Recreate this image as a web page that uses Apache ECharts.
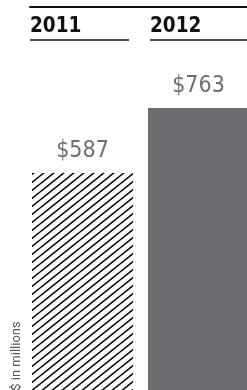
<!DOCTYPE html>
<html><head><meta charset="utf-8">
<script src="https://cdn.jsdelivr.net/npm/echarts@6/dist/echarts.min.js"></script>
<style>html,body{margin:0;padding:0;background:#fff}#c{width:247px;height:390px}</style>
</head><body><div id="c"></div>
<script>
var categories = ['2011', '2012'];
var values = [587, 763];
var yAxisName = '$ in millions';

function hatch() {
  var c = document.createElement('canvas');
  c.width = 10; c.height = 8;
  var g = c.getContext('2d');
  g.fillStyle = '#fff'; g.fillRect(0, 0, 10, 8);
  g.strokeStyle = '#000'; g.lineWidth = 1.4;
  g.beginPath();
  g.moveTo(-2, 9.6); g.lineTo(12, -1.6);
  g.moveTo(-12, 9.6); g.lineTo(2, -1.6);
  g.moveTo(8, 9.6); g.lineTo(22, -1.6);
  g.stroke();
  return c;
}
var font = '"DejaVu Sans Condensed","DejaVu Sans",sans-serif';
var chart = echarts.init(document.getElementById('c'), null, {renderer: 'canvas'});
chart.setOption({
  animation: false,
  grid: [
    {left: 24.5, width: 232, top: 0, bottom: 0, outerBoundsMode: 'none', containLabel: false},
    {left: 30, width: 240, top: 7, height: 40, outerBoundsMode: 'none', containLabel: false}
  ],
  xAxis: [
    {type: 'category', data: categories, gridIndex: 0, show: false},
    {type: 'category', data: categories, gridIndex: 1, position: 'top',
     axisLine: {show: true, onZero: false, lineStyle: {color: '#111', width: 2}},
     axisTick: {show: false}, splitLine: {show: false},
     axisLabel: {inside: true, interval: 0, hideOverlap: false, margin: 8, align: 'center', verticalAlign: 'top',
       formatter: function (v) { return '{y|' + v + '}\n{u| }'; },
       rich: {
         y: {width: 120, align: 'left', fontFamily: font, fontWeight: 'bold', fontSize: 20.5, color: '#111', lineHeight: 24},
         u: {width: 99, align: 'left', height: 1.5, lineHeight: 2, fontSize: 1, backgroundColor: '#111'}
       }}}
  ],
  yAxis: [
    {type: 'value', min: 0, max: 1055, gridIndex: 0, show: false},
    {type: 'value', min: 0, max: 1, gridIndex: 1, show: false}
  ],
  series: [{
    type: 'bar', xAxisIndex: 0, yAxisIndex: 0, barWidth: 101,
    data: values.map(function (v, i) {
      return {value: v, itemStyle: {color: i === 0 ? {image: hatch(), repeat: 'repeat'} : '#6b6c70'}};
    }),
    label: {show: true, position: 'top', distance: 10, fontFamily: font, fontSize: 23, color: '#6d6e71',
      formatter: function (p) { return '$' + p.value; }}
  }],
  graphic: [{
    type: 'text', x: 17, y: 356, rotation: Math.PI / 2,
    style: {text: yAxisName, fontFamily: 'Roboto, sans-serif', fontSize: 13, fill: '#555', align: 'center', verticalAlign: 'middle'}
  }]
});
</script></body></html>
